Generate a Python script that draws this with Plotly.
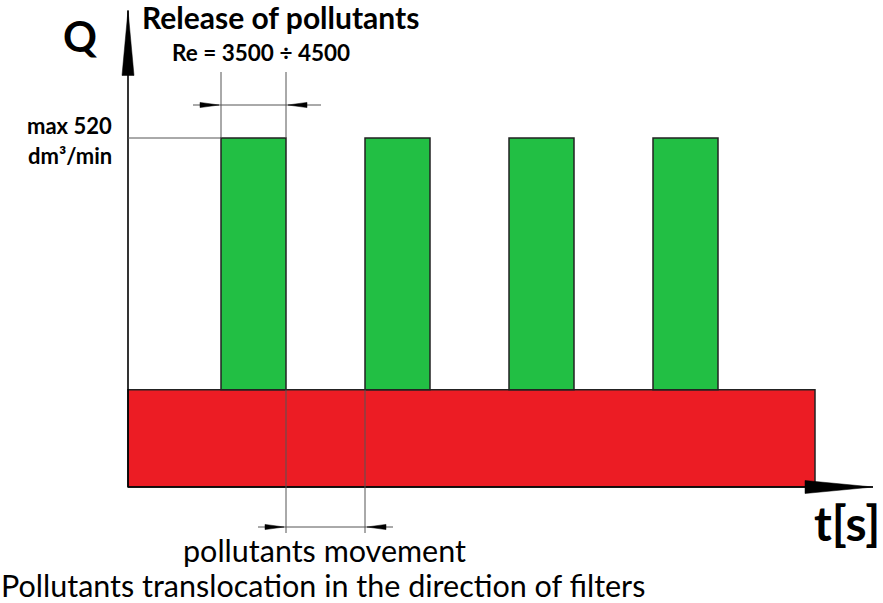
import plotly.graph_objects as go

W, H = 883, 603

# ---- data (schematic units) ----
pulse_start = [9.3, 23.7, 38.1, 52.5]   # t at which each release pulse starts
pulse_width = 6.5                        # duration of each pulse
peak_q = 520                             # max flow, dm3/min
base_q = 145                             # continuous translocation level
base_end = 68.7                          # end of continuous band
t_axis_end = 74.5
q_axis_end = 710

title_text = "Release of pollutants"
re_text = "Re = 3500 ÷ 4500"
max_text = "max 520"
unit_text = "dm³/min"
move_text = "pollutants movement"
caption_text = "Pollutants translocation in the direction of filters"

# ---- pixel <-> data mapping ----
X0_PX, PX_PER_T = 128, 10.0
Y0_PX, PX_PER_Q = 487, 349 / 520
x_range = [-X0_PX / PX_PER_T, (W - X0_PX) / PX_PER_T]
y_range = [-(H - Y0_PX) / PX_PER_Q, Y0_PX / PX_PER_Q]


def tq(py):
    return (Y0_PX - py) / PX_PER_Q


GREEN = "#22BF44"
RED = "#EC1C24"
FONT = "Lato"

fig = go.Figure()

# continuous band
fig.add_trace(go.Bar(x=[base_end / 2], y=[base_q], width=[base_end], base=0,
                     marker=dict(color=RED, line=dict(color="#222", width=1.5))))
# pulses
fig.add_trace(go.Bar(x=[s + pulse_width / 2 for s in pulse_start],
                     y=[peak_q - base_q] * len(pulse_start),
                     base=[base_q] * len(pulse_start),
                     width=[pulse_width] * len(pulse_start),
                     marker=dict(color=GREEN, line=dict(color="#222", width=1.5))))


def line(xs, ys, color="black", width=1.0):
    fig.add_trace(go.Scatter(x=xs, y=ys, mode="lines", hoverinfo="skip",
                             line=dict(color=color, width=width)))


def tri(xs, ys):
    fig.add_trace(go.Scatter(x=xs + [xs[0]], y=ys + [ys[0]], mode="lines",
                             fill="toself", fillcolor="black", hoverinfo="skip",
                             line=dict(color="black", width=0.5)))


# axes
line([0, 0], [0, q_axis_end], width=1.6)
line([0, t_axis_end], [0, 0], width=1.6)
# axis arrowheads (long slender)
ah_len_q = 65 / PX_PER_Q
ah_half_t = 6 / PX_PER_T
tri([-ah_half_t, ah_half_t, 0], [q_axis_end - ah_len_q, q_axis_end - ah_len_q, q_axis_end])
ah_len_t = 68 / PX_PER_T
ah_half_q = 6.5 / PX_PER_Q
tri([t_axis_end - ah_len_t, t_axis_end - ah_len_t, t_axis_end], [ah_half_q, -ah_half_q, 0])

# max level line
line([0, pulse_start[0]], [peak_q, peak_q], color="#555", width=1)

# top dimension (pulse width)
x_a, x_b = pulse_start[0], pulse_start[0] + pulse_width
q_ext_top = tq(72)
q_dim_top = tq(105)
line([x_a, x_a], [peak_q, q_ext_top], color="#555", width=1)
line([x_b, x_b], [peak_q, q_ext_top], color="#555", width=1)
ovh = 28 / PX_PER_T
ovh2 = 35 / PX_PER_T
line([x_a - ovh, x_b + ovh2], [q_dim_top, q_dim_top], color="#555", width=1)

# bottom dimension (gap between pulses)
x_c, x_d = pulse_start[0] + pulse_width, pulse_start[1]
q_ext_bot = tq(533)
q_dim_bot = tq(527)
line([x_c, x_c], [base_q, q_ext_bot], color="#555", width=1)
line([x_d, x_d], [base_q, q_ext_bot], color="#555", width=1)
line([x_c - ovh, x_d + ovh], [q_dim_bot, q_dim_bot], color="#555", width=1)

# small dimension arrowheads (pointing inward)
a_len = 19 / PX_PER_T
a_half = 2.6 / PX_PER_Q
for xe, qd, direction in [(x_a, q_dim_top, 1), (x_b, q_dim_top, -1),
                          (x_c, q_dim_bot, 1), (x_d, q_dim_bot, -1)]:
    tip = xe - direction * (2 / PX_PER_T)
    base = tip - direction * a_len
    tri([base, base, tip], [qd + a_half, qd - a_half, qd])


def text(s, px, py, size, bold=False, xanchor="center"):
    fig.add_annotation(x=px / W, y=1 - py / H, xref="paper", yref="paper",
                       text=f"<b>{s}</b>" if bold else s, showarrow=False,
                       xanchor=xanchor, yanchor="middle", borderpad=0,
                       font=dict(family=FONT, size=size, color="black"))


text("Q", 80, 36, 42, bold=True)
text(title_text, 141, 17, 30, bold=True, xanchor="left")
text(re_text, 261, 52, 22.5, bold=True)
text(max_text, 113, 126, 22, bold=True, xanchor="right")
text(unit_text, 113, 156, 22, bold=True, xanchor="right")
text("t[s]", 847, 522, 48, bold=True)
text(move_text, 324, 550, 30.5)
text(caption_text, 323, 585, 30.5)

fig.update_layout(
    width=W, height=H, margin=dict(l=0, r=0, t=0, b=0),
    paper_bgcolor="white", plot_bgcolor="white",
    showlegend=False, barmode="overlay",
    xaxis=dict(range=x_range, visible=False, fixedrange=True),
    yaxis=dict(range=y_range, visible=False, fixedrange=True),
)

fig.write_html("out.html", config={"displayModeBar": False},
               post_script="document.body.style.margin='0';document.body.style.overflow='hidden';")
